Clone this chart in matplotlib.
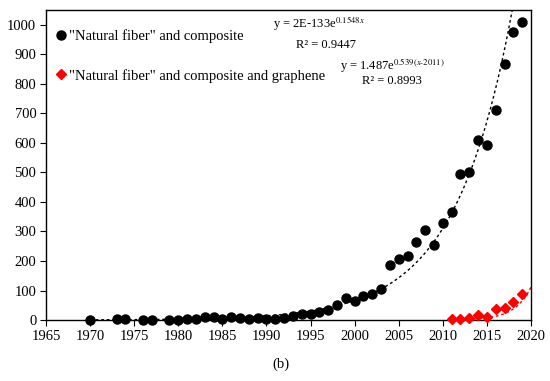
import numpy as np
import matplotlib.pyplot as plt

plt.rcParams['font.family'] = ['Liberation Serif', 'DejaVu Serif']
plt.rcParams['mathtext.fontset'] = 'stix'

# "Natural fiber" and composite
years_nf = [1970, 1973, 1974, 1976, 1977, 1979, 1980, 1981, 1982, 1983,
            1984, 1985, 1986, 1987, 1988, 1989, 1990, 1991, 1992, 1993,
            1994, 1995, 1996, 1997, 1998, 1999, 2000, 2001, 2002, 2003,
            2004, 2005, 2006, 2007, 2008, 2009, 2010, 2011, 2012, 2013,
            2014, 2015, 2016, 2017, 2018, 2019]
counts_nf = [1, 5, 2, 1, 1, 1, 1, 5, 3, 11,
             11, 3, 9, 7, 2, 8, 5, 4, 8, 12,
             20, 21, 27, 35, 52, 76, 65, 80, 87, 106,
             186, 208, 217, 263, 305, 254, 330, 367, 493, 503,
             611, 592, 712, 867, 976, 1009]

# "Natural fiber" and composite and graphene
years_gr = [2011, 2012, 2013, 2014, 2015, 2016, 2017, 2018, 2019]
counts_gr = [2, 2, 8, 16, 11, 36, 41, 60, 89]

# exponential trend lines
nf_a, nf_b = 2.3e-133, 0.1548
gr_a, gr_b, gr_x0 = 1.487, 0.539, 2012

fig = plt.figure(figsize=(5.5, 3.81), dpi=100)
ax = fig.add_axes([0.0836, 0.160, 0.8818, 0.8138])

xt = np.linspace(1970, 2020, 300)
ax.plot(xt, nf_a * np.exp(nf_b * xt), color='black', lw=1,
        linestyle=(0, (2, 2)))
xg = np.linspace(2011, 2020, 100)
ax.plot(xg, gr_a * np.exp(gr_b * (xg - gr_x0)), color='red', lw=1,
        linestyle=(0, (2, 2)))

ax.plot(years_nf, counts_nf, 'o', color='black', ms=6.5, clip_on=False,
        label='"Natural fiber" and composite', zorder=3)
ax.plot(years_gr, counts_gr, 'D', color='red', ms=4.8, clip_on=False,
        label='"Natural fiber" and composite and graphene', zorder=3)

ax.set_xlim(1965, 2020)
ax.set_ylim(0, 1050)
ax.set_xticks(range(1965, 2021, 5))
ax.set_yticks(range(0, 1001, 100))
ax.tick_params(labelsize=10.5, length=4, width=0.8, direction='out', pad=3)
for s in ax.spines.values():
    s.set_linewidth(1)

ax.legend(loc='upper left', bbox_to_anchor=(0.0, 0.97), frameon=False,
          fontsize=10.5, handlelength=0.6, handletextpad=0.3,
          labelspacing=1.75, borderaxespad=0.3)

ax.text(0.468, 0.957, r'y = 2E-133e$^{0.1548x}$', transform=ax.transAxes,
        fontsize=9, va='center')
ax.text(0.515, 0.888, r'R² = 0.9447', transform=ax.transAxes,
        fontsize=9, va='center')
ax.text(0.607, 0.82, r'y = 1.487e$^{0.539(x\text{-}2011)}$',
        transform=ax.transAxes, fontsize=9, va='center')
ax.text(0.652, 0.77, r'R² = 0.8993', transform=ax.transAxes,
        fontsize=9, va='center')

fig.text(0.51, 0.035, '(b)', ha='center', fontsize=10.5)

fig.savefig('out.png', dpi=100)
